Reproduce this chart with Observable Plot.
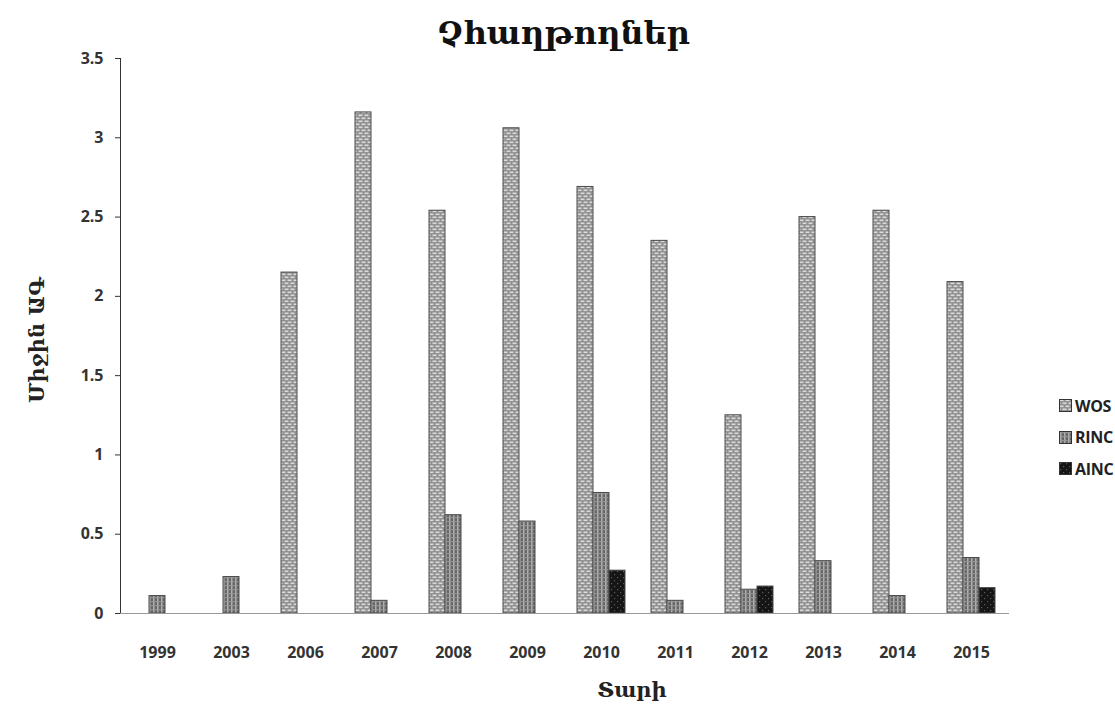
<!DOCTYPE html>
<html>
<head>
<meta charset="utf-8">
<script src="https://cdn.jsdelivr.net/npm/d3@7"></script>
<script src="https://cdn.jsdelivr.net/npm/@observablehq/plot@0.6"></script>
<style>
  body { margin: 0; background: #fff; }
  #wrap { position: relative; width: 1115px; height: 720px; overflow: hidden; }
  #title { position: absolute; left: 0; width: 1115px; top: 14px; text-align: center; font: bold 32px "DejaVu Serif", serif; color: #111; padding-left: 12px; box-sizing: border-box; }
  #ylab { position: absolute; left: 36px; top: 340px; transform: translate(-50%, -50%) rotate(-90deg); font: bold 21px "DejaVu Serif", serif; color: #222; white-space: nowrap; }
  #xlab { position: absolute; left: 632px; top: 689px; transform: translate(-50%, -50%); font: bold 21px "DejaVu Serif", serif; color: #222; }
  #legend { position: absolute; left: 1059px; top: 390px; font: bold 16px "Open Sans", sans-serif; letter-spacing: -0.3px; color: #222; }
  #legend .it { display: flex; align-items: center; height: 31.5px; }
  #legend svg { margin-right: 3px; }
  #chart { position: absolute; left: 0; top: 0; }
</style>
</head>
<body>
<svg width="0" height="0" style="position:absolute">
  <defs>
    <pattern id="pWOS" width="6" height="6" patternUnits="userSpaceOnUse">
      <rect width="6" height="6" fill="#8e8e8e"/>
      <rect x="0.5" y="0.5" width="4" height="1.6" fill="#dadada"/>
      <rect x="3.5" y="3.5" width="4" height="1.6" fill="#dadada"/>
      <rect x="-2.5" y="3.5" width="4" height="1.6" fill="#dadada"/>
    </pattern>
    <pattern id="pRINC" width="4" height="4" patternUnits="userSpaceOnUse">
      <rect width="4" height="4" fill="#666"/>
      <rect x="1" y="0" width="1.5" height="4" fill="#b0b0b0"/>
      <rect x="0" y="1.2" width="4" height="1" fill="#9a9a9a"/>
    </pattern>
    <pattern id="pAINC" width="6" height="6" patternUnits="userSpaceOnUse">
      <rect width="6" height="6" fill="#151515"/>
      <rect x="1" y="1" width="1.2" height="1.2" fill="#5a5a5a"/>
      <rect x="4" y="4" width="1.2" height="1.2" fill="#5a5a5a"/>
    </pattern>
  </defs>
</svg>
<div id="wrap">
  <div id="chart"></div>
  <div id="title">Չհաղթողներ</div>
  <div id="ylab">Միջին ԱԳ</div>
  <div id="xlab">Տարի</div>
  <div id="legend"></div>
</div>
<script>
const years = ["1999","2003","2006","2007","2008","2009","2010","2011","2012","2013","2014","2015"];
const series = ["WOS","RINC","AINC"];
const wos  = [0, 0, 2.15, 3.16, 2.54, 3.06, 2.69, 2.35, 1.25, 2.50, 2.54, 2.09];
const rinc = [0.11, 0.23, 0, 0.08, 0.62, 0.58, 0.76, 0.08, 0.15, 0.33, 0.11, 0.35];
const ainc = [0, 0, 0, 0, 0, 0, 0.27, 0, 0.17, 0, 0, 0.16];
const yTicks = [0, 0.5, 1, 1.5, 2, 2.5, 3, 3.5];

const fills = {WOS: "url(#pWOS)", RINC: "url(#pRINC)", AINC: "url(#pAINC)"};
const valuesBySeries = {WOS: wos, RINC: rinc, AINC: ainc};

const data = [];
years.forEach((y, i) => series.forEach(s => {
  const v = valuesBySeries[s][i];
  if (v > 0) data.push({year: y, series: s, value: v});
}));

const chart = Plot.plot({
  width: 1050,
  height: 720,
  marginLeft: 116,
  marginRight: 38,
  marginTop: 58,
  marginBottom: 107,
  style: {fontFamily: "'Open Sans', sans-serif", fontWeight: "bold", fontSize: "16px", color: "#333", background: "transparent"},
  fx: {domain: years, padding: 0, label: null, tickSize: 0, tickPadding: 33, axis: "bottom"},
  x: {domain: series, paddingInner: 0, paddingOuter: 0.7, axis: null},
  y: {domain: [0, 3.5], ticks: yTicks, tickFormat: d => String(d), tickSize: 5, tickPadding: 12, label: null, line: true},
  color: {type: "identity"},
  marks: [
    Plot.barY(data, {fx: "year", x: "series", y: "value", fill: d => fills[d.series], stroke: "#4a4a4a", strokeWidth: 1}),
    Plot.frame({anchor: "bottom", stroke: "#999", facet: "super"})
  ]
});
chart.querySelectorAll("[aria-label='y-axis tick'], [aria-label='y-axis line']").forEach(g => g.setAttribute("stroke", "#999"));
document.getElementById("chart").appendChild(chart);

const legend = document.getElementById("legend");
series.forEach(s => {
  const it = document.createElement("div");
  it.className = "it";
  it.innerHTML = `<svg width="13" height="13"><rect x="0.5" y="0.5" width="12" height="12" fill="${fills[s]}" stroke="#333"/></svg><span>${s}</span>`;
  legend.appendChild(it);
});
</script>
</body>
</html>
